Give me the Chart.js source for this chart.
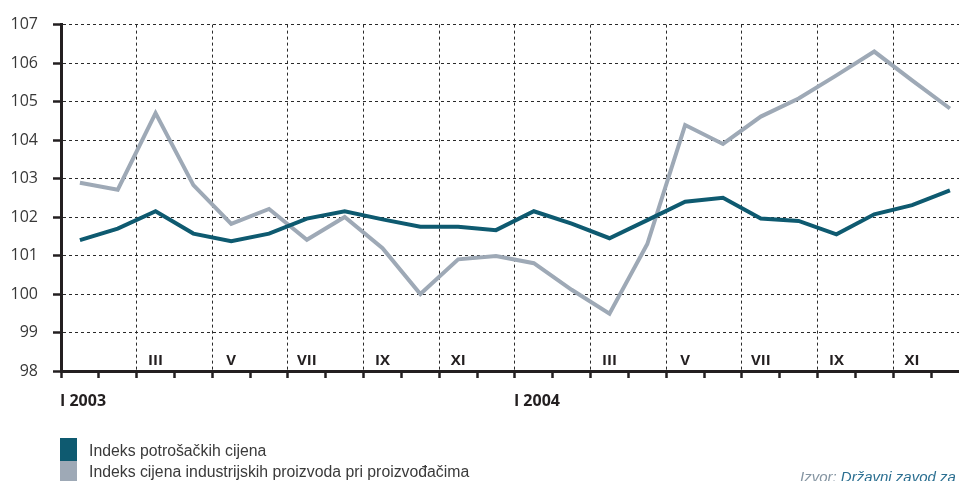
<!DOCTYPE html>
<html lang="hr">
<head>
  <meta charset="UTF-8" />
  <title>Indeksi cijena 2003-2004</title>
  <script src="https://cdn.jsdelivr.net/npm/chart.js"></script>
  <style>
    html, body { margin: 0; padding: 0; background: #fff; }
    #wrap { width: 959px; height: 481px; position: relative; }
  </style>
</head>
<body>
  <div id="wrap"><canvas id="cijene" width="959" height="481"></canvas></div>

  <script>
    // mjeseci (I 2003 - XII 2004)
    const months = ['I 2003', 'II', 'III', 'IV', 'V', 'VI', 'VII', 'VIII', 'IX', 'X', 'XI', 'XII',
                    'I 2004', 'II', 'III', 'IV', 'V', 'VI', 'VII', 'VIII', 'IX', 'X', 'XI', 'XII'];

    // Indeks potrošačkih cijena
    const cpi = [101.4, 101.7, 102.15, 101.57, 101.37, 101.57, 101.96, 102.15, 101.94, 101.75, 101.75, 101.66,
                 102.15, 101.83, 101.45, 101.92, 102.4, 102.5, 101.96, 101.9, 101.55, 102.07, 102.31, 102.69];

    // Indeks cijena industrijskih proizvoda pri proizvođačima
    const ppi = [102.89, 102.71, 104.7, 102.83, 101.82, 102.21, 101.41, 102.0, 101.19, 100.0, 100.9, 100.99,
                 100.8, 100.11, 99.49, 101.3, 104.39, 103.9, 104.61, 105.08, 105.68, 106.3, 105.55, 104.82];

    const yTicks = [98, 99, 100, 101, 102, 103, 104, 105, 106, 107];

    const seriesNames = ['Indeks potrošačkih cijena', 'Indeks cijena industrijskih proizvoda pri proizvođačima'];
    const seriesColors = ['#0e5a70', '#9ea9b6'];
    const sourceLabel = 'Izvor: ';
    const sourceLink = 'Državni zavod za';

    const ink = '#231f20';

    // svaka točka u sredini mjeseca
    const toPoints = arr => arr.map((v, i) => ({ x: i + 0.5, y: v }));

    // rimski mjeseci, legenda i izvor
    const extras = {
      id: 'extras',
      afterDraw(chart) {
        const { ctx } = chart;
        const xs = chart.scales.x;
        ctx.save();
        ctx.fillStyle = ink;
        ctx.textBaseline = 'middle';
        months.forEach((m, i) => {
          if (i % 2 !== 0) return;
          if (i % 12 === 0) {
            ctx.font = 'bold 16px "Open Sans", sans-serif';
            ctx.textAlign = 'left';
            ctx.fillText(m, xs.getPixelForValue(i) - 1, 401);
          } else {
            ctx.font = 'bold 15px "Open Sans", sans-serif';
            ctx.textAlign = 'center';
            ctx.fillText(m, xs.getPixelForValue(i + 0.5), 361);
          }
        });

        // legenda
        chart.data.datasets.forEach((ds, k) => {
          const top = k === 0 ? 438 : 461;
          const h = k === 0 ? 23 : 20;
          ctx.fillStyle = ds.borderColor;
          ctx.fillRect(60, top, 17, h);
          ctx.fillStyle = '#3a3a3a';
          ctx.font = '15.8px "Liberation Sans", sans-serif';
          ctx.textAlign = 'left';
          ctx.fillText(ds.label, 89, k === 0 ? 452 : 473);
        });

        // izvor
        ctx.font = 'italic 15px "Liberation Sans", sans-serif';
        ctx.textBaseline = 'alphabetic';
        ctx.fillStyle = '#8595a2';
        ctx.fillText(sourceLabel, 800, 482);
        const w = ctx.measureText(sourceLabel).width;
        ctx.fillStyle = '#2b6f91';
        ctx.fillText(sourceLink, 800 + w, 482);
        ctx.restore();
      }
    };

    new Chart(document.getElementById('cijene'), {
      type: 'line',
      data: {
        datasets: [
          { label: seriesNames[0], data: toPoints(cpi), borderColor: seriesColors[0], backgroundColor: seriesColors[0] },
          { label: seriesNames[1], data: toPoints(ppi), borderColor: seriesColors[1], backgroundColor: seriesColors[1] }
        ]
      },
      options: {
        responsive: false,
        animation: false,
        layout: { padding: { top: 22, right: 0, left: 0, bottom: 0 } },
        elements: {
          point: { radius: 0 },
          line: { borderWidth: 4, tension: 0, borderJoinStyle: 'miter', borderCapStyle: 'butt' }
        },
        plugins: {
          legend: { display: false },
          tooltip: { enabled: false }
        },
        scales: {
          x: {
            type: 'linear',
            min: 0,
            max: 23.74,
            afterBuildTicks: s => { s.ticks = months.map((m, i) => ({ value: i })); },
            afterFit: s => { s.height = 110; },
            ticks: { display: false },
            grid: {
              color: c => (c.tick && c.tick.value > 0 && c.tick.value % 2 === 0) ? '#2a2a2a' : 'rgba(0,0,0,0)',
              lineWidth: 1,
              tickColor: ink,
              tickWidth: 2.5,
              tickLength: 7,
              tickBorderDash: []
            },
            border: { display: true, color: ink, width: 3, dash: [3, 3] }
          },
          y: {
            min: 98,
            max: 107,
            afterBuildTicks: s => { s.ticks = yTicks.map(v => ({ value: v })); },
            afterFit: s => { s.width = 61; },
            ticks: {
              padding: 15,
              color: '#383838',
              font: { family: '"Open Sans", sans-serif', size: 16 }
            },
            grid: {
              color: c => (c.tick && c.tick.value > 98) ? '#2a2a2a' : 'rgba(0,0,0,0)',
              lineWidth: 1,
              tickColor: ink,
              tickWidth: 2.5,
              tickLength: 8,
              tickBorderDash: []
            },
            border: { display: true, color: ink, width: 3, dash: [3, 3] }
          }
        }
      },
      plugins: [extras]
    });
  </script>
</body>
</html>
